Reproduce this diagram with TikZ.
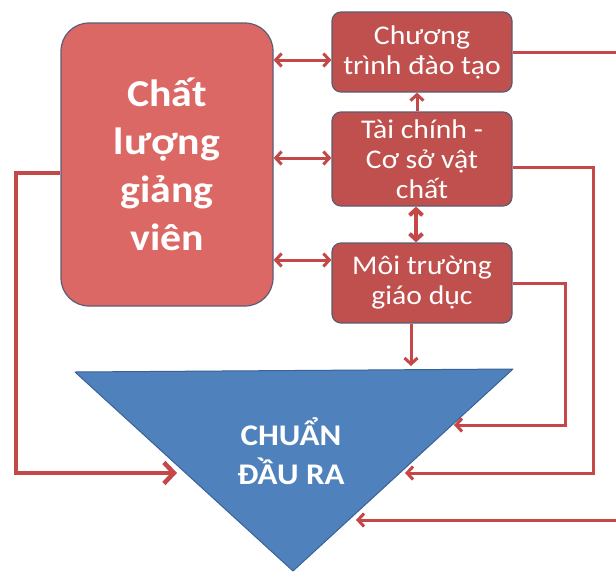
\documentclass[tikz,border=0pt]{standalone}
\usepackage{fontspec}
\setmainfont{Carlito}[FakeStretch=1.1]
\usetikzlibrary{arrows.meta,calc}
\definecolor{bigfill}{RGB}{219,104,101}
\definecolor{boxfill}{RGB}{192,80,77}
\definecolor{boxedge}{RGB}{92,92,118}
\definecolor{linered}{RGB}{197,72,72}
\definecolor{trifill}{RGB}{79,129,189}
\definecolor{triedge}{RGB}{58,98,150}
\begin{document}
\begin{tikzpicture}[x=1pt,y=-1pt,
  bigbox/.style={draw=boxedge, line width=1.2pt, fill=bigfill, rounded corners=28pt,
    minimum width=212pt, minimum height=283pt, inner sep=0pt, text=white,
    font=\fontsize{38}{48}\selectfont\bfseries, align=center},
  smallbox/.style={draw=boxedge, line width=1.2pt, fill=boxfill, rounded corners=9pt,
    minimum width=180pt, inner sep=0pt, text=white,
    font=\fontsize{27}{30}\selectfont, align=center},
  conn/.style={draw=linered, line width=3pt},
  thickconn/.style={draw=linered, line width=4.5pt},
  arr/.style={-{Straight Barb[length=6pt,width=13pt]}},
  dblarr/.style={{Straight Barb[length=6pt,width=13pt]}-{Straight Barb[length=6pt,width=13pt]}},
  bigarr/.style={-{Straight Barb[length=10pt,width=21pt]}},
  tritext/.style={text=white, font=\fontsize{30}{39}\selectfont\bfseries, align=center}
]
\fill[white] (0,0) rectangle (616,571);
\useasboundingbox (0,0) rectangle (616,571);

% triangle
\coordinate (tl) at (75,372);
\coordinate (tr) at (513,369);
\coordinate (tb) at (293,571);
\filldraw[fill=trifill, draw=triedge, line width=1pt, line join=round] (tl) -- (tr) -- (tb) -- cycle;
\node[tritext] (tt) at (291,451) {CHUẨN\\ĐẦU RA};

% boxes
\node[bigbox] (big) at (167,164.5) {Chất\\lượng\\giảng\\viên};
\node[smallbox, minimum height=80pt] (b1) at (422,52) {Chương\\trình đào tạo};
\node[smallbox, minimum height=94pt] (b2) at (422,159) {Tài chính -\\Cơ sở vật\\chất};
\node[smallbox, minimum height=80pt] (b3) at (422,283) {Môi trường\\giáo dục};

% connector end points
\coordinate (e1) at (616,52);
\coordinate (e4) at (616,520);
\coordinate (t2) at (405,473);
\coordinate (t3) at (454,425);
\coordinate (t4) at (356,520);
\coordinate (t5) at (177,473);
\coordinate (t6) at (411,366);

% connectors
\draw[conn, dblarr] (big.east |- 0,60) -- (b1.west |- 0,60);
\draw[conn, dblarr] (big.east |- 0,158) -- (b2.west |- 0,158);
\draw[conn, dblarr] (big.east |- 0,260) -- (b3.west |- 0,260);
\draw[conn, arr] ([xshift=-5pt]b2.north) -- ([xshift=-5pt]b1.south);
\draw[conn, line width=4pt, dblarr] ([xshift=-6pt]b2.south) -- ([xshift=-6pt]b3.north);
\draw[conn, arr] (b3.south -| t6) -- (t6);
\draw[conn] (b1.east) -- (e1);
\draw[conn, arr] ([yshift=-8pt]b2.east) -| (593,473) -- (t2);
\draw[conn, arr] (b3.east) -| (565,425) -- (t3);
\draw[conn, arr] (e4) -- (t4);
\draw[thickconn, bigarr] ([yshift=-8.5pt]big.west) -| (16,473) -- (t5);
\end{tikzpicture}
\end{document}
